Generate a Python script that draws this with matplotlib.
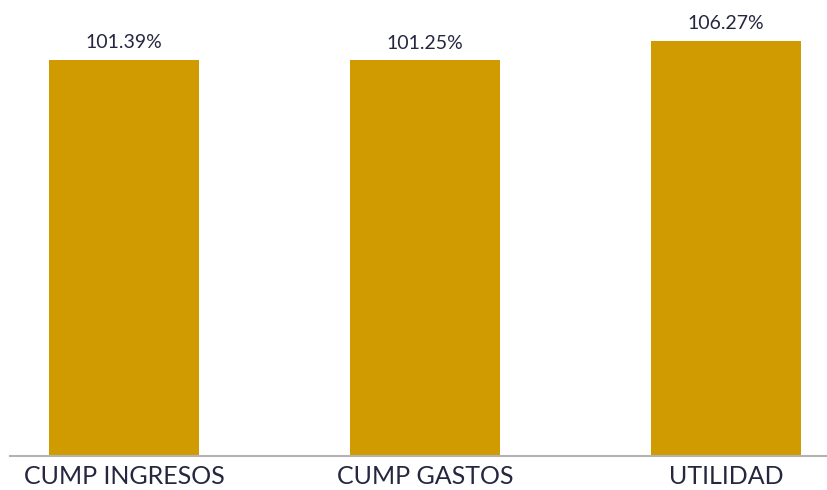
import matplotlib
matplotlib.use('Agg')
import matplotlib.pyplot as plt

categories = ['CUMP INGRESOS', 'CUMP GASTOS', 'UTILIDAD']
values = [101.39, 101.25, 106.27]
value_labels = ['101.39%', '101.25%', '106.27%']

plt.rcParams['font.family'] = ['Lato', 'DejaVu Sans']
text_color = '#262640'
bar_color = '#D09B00'

fig = plt.figure(figsize=(8.28, 4.9), dpi=100)
ax = fig.add_axes([10 / 828, 34.3 / 490, 818 / 828, 455.7 / 490])

x = list(range(len(categories)))
bars = ax.bar(x, values, width=0.5, color=bar_color, zorder=2)

for b, lab in zip(bars, value_labels):
    ax.annotate(lab, (b.get_x() + b.get_width() / 2, b.get_height()),
                xytext=(0, 6), textcoords='offset points',
                ha='center', va='bottom', fontsize=14, color=text_color)

ax.set_xlim(-0.379, 2.339)
ax.set_ylim(0, 116.7)
ax.set_xticks(x)
ax.set_xticklabels(categories, fontsize=18, color=text_color)
ax.tick_params(axis='x', length=0, pad=7)
ax.set_yticks([])

for s in ['top', 'right', 'left']:
    ax.spines[s].set_visible(False)
ax.spines['bottom'].set_color('#b3b3b3')
ax.spines['bottom'].set_linewidth(1.5)

fig.savefig('out.png', dpi=100)
